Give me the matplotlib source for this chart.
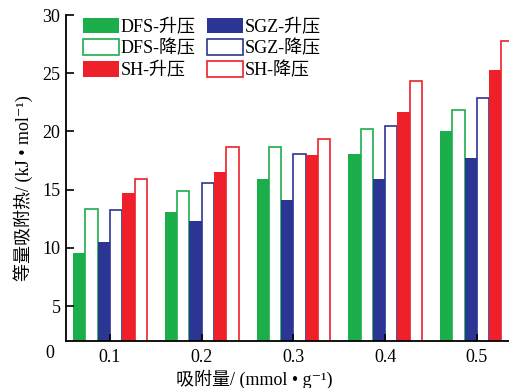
#!/usr/bin/env python3
"""Isosteric adsorption heat bars for DFS / SGZ / SH, adsorption vs desorption."""

import matplotlib
matplotlib.use("Agg")
import matplotlib.pyplot as plt
import numpy as np

# Data
loadings = ["0.1", "0.2", "0.3", "0.4", "0.5"]
dfs_up = [9.6, 13.1, 15.9, 18.1, 20.0]
dfs_down = [13.3, 14.9, 18.7, 20.2, 21.8]
sgz_up = [10.5, 12.3, 14.1, 15.9, 17.7]
sgz_down = [13.25, 15.6, 18.05, 20.45, 22.85]
sh_up = [14.75, 16.55, 18.0, 21.65, 25.3]
sh_down = [15.95, 18.7, 19.35, 24.35, 27.75]
y_ticks = [5, 10, 15, 20, 25, 30]

GREEN = "#1bae4b"
BLUE = "#2b3593"
RED = "#ee2029"

FONT = ["Liberation Serif", "Noto Sans CJK SC", "DejaVu Sans"]
plt.rcParams["font.family"] = FONT
plt.rcParams["font.size"] = 13


def main():
    W, H = 509, 388
    fig = plt.figure(figsize=(W / 100, H / 100), dpi=100)
    ax = fig.add_axes([66 / W, 47 / H, 1 - 66 / W, 326 / H])

    x = np.arange(1, len(loadings) + 1)
    w = 0.134
    series = [
        (dfs_up, GREEN, True, "DFS-升压"),
        (dfs_down, GREEN, False, "DFS-降压"),
        (sgz_up, BLUE, True, "SGZ-升压"),
        (sgz_down, BLUE, False, "SGZ-降压"),
        (sh_up, RED, True, "SH-升压"),
        (sh_down, RED, False, "SH-降压"),
    ]
    handles = {}
    for k, (vals, col, filled, lab) in enumerate(series):
        pos = x + (k - 2.5) * w
        if filled:
            b = ax.bar(pos, vals, width=w, color=col, edgecolor="none", label=lab)
        else:
            b = ax.bar(pos, vals, width=w, facecolor="white", edgecolor=col,
                       linewidth=1.2, label=lab)
        handles[lab] = b

    ax.set_xlim(0.52, 5.35)
    ax.set_ylim(2, 30)
    ax.set_xticks(x)
    ax.set_xticklabels(loadings)
    ax.set_yticks(y_ticks)
    ax.tick_params(axis="both", direction="in", width=1.2, labelsize=13, colors="black")
    ax.tick_params(axis="y", length=6, pad=4)
    ax.tick_params(axis="x", length=5, pad=6)
    for side in ["top", "right"]:
        ax.spines[side].set_visible(False)
    for side in ["left", "bottom"]:
        ax.spines[side].set_linewidth(1.3)

    # origin label sits below the broken axis
    fig.text(50 / W, 1 - 353 / H, "0", fontsize=13, ha="center", va="center")

    # axis titles are placed relative to the figure, as in the original
    fig.text(23 / W, 1 - 188 / H, "等量吸附热/ (kJ • mol⁻¹)", fontsize=13,
             rotation=90, ha="center", va="center")
    fig.text(254 / W, 1 - 379 / H, "吸附量/ (mmol • g⁻¹)", fontsize=13,
             ha="center", va="center")

    order = ["DFS-升压", "DFS-降压", "SH-升压", "SGZ-升压", "SGZ-降压", "SH-降压"]
    ax.legend([handles[o] for o in order], order, ncol=2, frameon=False,
              loc="upper left", bbox_to_anchor=(0.01, 1.03), fontsize=13,
              handlelength=2.0, handleheight=0.95, handletextpad=0.1,
              labelspacing=0.2, columnspacing=0.6, borderpad=0.2)

    fig.savefig("out.png", dpi=100)
    plt.close(fig)


if __name__ == "__main__":
    main()
